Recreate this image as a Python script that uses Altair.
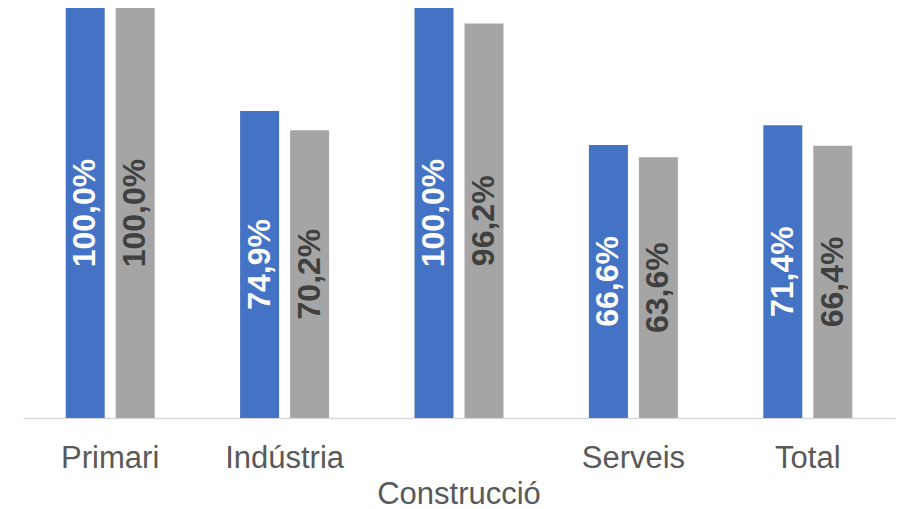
import altair as alt
import pandas as pd

categories = ["Primari", "Indústria", "Construcció", "Serveis", "Total"]
series_names = ["Sèrie 1", "Sèrie 2"]
serie1 = [1.000, 0.749, 1.000, 0.666, 0.714]
serie2 = [1.000, 0.702, 0.962, 0.636, 0.664]

rows = []
for c, a, b in zip(categories, serie1, serie2):
    rows.append({"cat": c, "serie": series_names[0], "value": a})
    rows.append({"cat": c, "serie": series_names[1], "value": b})
df = pd.DataFrame(rows)

FONT = "Liberation Sans"

x_enc = alt.X(
    "cat:N",
    sort=categories,
    scale=alt.Scale(paddingInner=0, paddingOuter=0),
    axis=alt.Axis(
        title=None,
        ticks=False,
        domainColor="#D9D9D9",
        domainWidth=1.5,
        labelFont=FONT,
        labelFontSize=31,
        labelColor="#595959",
        labelAngle=0,
        labelBaseline="alphabetic",
        labelPadding=49,
        labelLineHeight=36,
        labelExpr="datum.value == 'Construcció' ? ['', datum.value] : datum.value",
        grid=False,
    ),
)
xoff_enc = alt.XOffset(
    "serie:N",
    sort=series_names,
    scale=alt.Scale(paddingInner=0.22, paddingOuter=0.854),
)
y_scale = alt.Scale(domain=[0, 1], nice=False, zero=True)

base = alt.Chart(df)

bars = base.mark_bar().encode(
    x=x_enc,
    xOffset=xoff_enc,
    y=alt.Y("value:Q", scale=y_scale, axis=None),
    color=alt.Color(
        "serie:N",
        scale=alt.Scale(domain=series_names, range=["#4472C4", "#A5A5A5"]),
        legend=None,
    ),
)

labels = base.transform_calculate(
    mid="datum.value / 2",
    lab="replace(format(datum.value * 100, '.1f'), '.', ',') + '%'",
).mark_text(
    angle=270,
    align="center",
    baseline="middle",
    font=FONT,
    fontSize=32,
    fontWeight="bold",
).encode(
    x=x_enc,
    xOffset=xoff_enc,
    y=alt.Y("mid:Q", scale=y_scale, axis=None),
    text="lab:N",
    color=alt.Color(
        "serie:N",
        scale=alt.Scale(domain=series_names, range=["#FFFFFF", "#404040"]),
        legend=None,
    ),
)

chart = (
    alt.layer(bars, labels)
    .resolve_scale(color="independent")
    .properties(
        width=872,
        height=410,
        background="white",
        autosize=alt.AutoSizeParams(type="none"),
        padding={"left": 23, "top": 8, "right": 7, "bottom": 91},
    )
    .configure_view(strokeWidth=0)
)

chart.save("out.html", embed_options={"renderer": "svg", "actions": False})
